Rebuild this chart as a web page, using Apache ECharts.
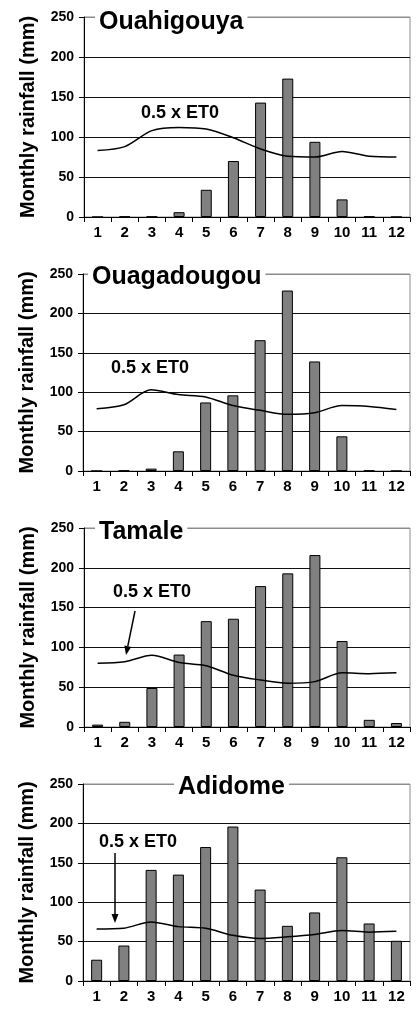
<!DOCTYPE html>
<html>
<head>
<meta charset="utf-8">
<title>Monthly rainfall and 0.5 x ET0</title>
<script src="https://cdn.jsdelivr.net/npm/echarts@6/dist/echarts.min.js"></script>
<style>
  html, body { margin: 0; padding: 0; background: #fff; }
  #main { width: 417px; height: 1014px; }
</style>
</head>
<body>
<div id="main"></div>
<script>
    // data (mm)
    var months = ['1', '2', '3', '4', '5', '6', '7', '8', '9', '10', '11', '12'];
    var stations = ['Ouahigouya', 'Ouagadougou', 'Tamale', 'Adidome'];
    var yTicks = [0, 50, 100, 150, 200, 250];

    var rainOuahigouya = [0, 0.5, 0.5, 6, 34, 70, 143, 173, 94, 22, 0.5, 0];
    var et0Ouahigouya = [83, 88, 108, 112, 110, 99, 85, 76, 75, 82, 76, 75];
    var rainOuagadougou = [0, 0.5, 3, 25, 87, 96, 166, 229, 139, 44, 0.5, 0];
    var et0Ouagadougou = [79, 84, 103, 97, 94, 83, 77, 72, 74, 83, 82, 78];
    var rainTamale = [3, 6.5, 49, 91, 133, 136, 177, 193, 216, 108, 9, 5];
    var et0Tamale = [80, 82, 90, 81, 77, 65, 59, 55, 57, 68, 67, 68];
    var rainAdidome = [27, 45, 141, 135, 170, 196, 116, 70, 87, 157, 73, 51];
    var et0Adidome = [66, 67, 75, 69, 67, 58, 54, 56, 59, 64, 62, 63];

    var rainData = [rainOuahigouya, rainOuagadougou, rainTamale, rainAdidome];
    var et0Data = [et0Ouahigouya, et0Ouagadougou, et0Tamale, et0Adidome];

    var FONT = '"Liberation Sans", Arial, sans-serif';

    // panel layout
    var grids = [
        {left: 84, top: 17, width: 326, height: 200},
        {left: 83, top: 274, width: 327, height: 197},
        {left: 84, top: 528, width: 326, height: 199},
        {left: 83, top: 784, width: 327, height: 197}
    ];
    var titlePos = [[95, 9], [88, 264], [95, 519], [174, 774]];

    var option = {
        animation: false,
        backgroundColor: '#fff',
        title: [],
        grid: [],
        xAxis: [],
        yAxis: [],
        series: [],
        graphic: []
    };

    for (var i = 0; i < 4; i++) {
        var g = grids[i];
        option.grid.push({
            left: g.left, top: g.top, width: g.width, height: g.height,
            show: true, borderColor: '#8c8c8c', borderWidth: 1,
            containLabel: false
        });
        option.title.push({
            text: stations[i],
            left: titlePos[i][0], top: titlePos[i][1],
            padding: [0, 4],
            backgroundColor: '#fff',
            textStyle: {fontFamily: FONT, fontSize: 25, fontWeight: 'bold', color: '#000', lineHeight: 26}
        });
        option.xAxis.push({
            type: 'category',
            gridIndex: i,
            data: months,
            boundaryGap: true,
            axisLine: {lineStyle: {color: '#000', width: 1}},
            axisTick: {show: true, length: 5, lineStyle: {color: '#000'}},
            axisLabel: {fontFamily: FONT, fontSize: 15, fontWeight: 'bold', color: '#000', margin: 8, interval: 0},
            splitLine: {show: false}
        });
        option.yAxis.push({
            type: 'value',
            gridIndex: i,
            min: 0, max: 250, interval: 50,
            name: 'Monthly rainfall (mm)',
            nameLocation: 'middle',
            nameGap: 46,
            nameTextStyle: {fontFamily: FONT, fontSize: 20, fontWeight: 'bold', color: '#000'},
            axisLine: {show: true, lineStyle: {color: '#000', width: 1}},
            axisTick: {show: true, length: 5, lineStyle: {color: '#000'}},
            axisLabel: {fontFamily: FONT, fontSize: 14, fontWeight: 'bold', color: '#000', margin: 10},
            splitLine: {show: true, lineStyle: {color: ['#000', '#111', '#111', '#111', '#111', '#8c8c8c'], width: 1}}
        });
        option.series.push({
            type: 'bar',
            name: 'Rainfall',
            xAxisIndex: i, yAxisIndex: i,
            data: rainData[i],
            barWidth: 11,
            itemStyle: {color: '#808080', borderColor: '#000', borderWidth: 1}
        });
        option.series.push({
            type: 'line',
            name: '0.5 x ET0',
            xAxisIndex: i, yAxisIndex: i,
            data: et0Data[i],
            smooth: 0.3,
            symbol: 'none',
            lineStyle: {color: '#000', width: 1.5},
            z: 5
        });
    }

    // "0.5 x ET0" labels and arrows
    var labels = [[180, 113], [150, 368], [152, 592], [138, 842]];
    var arrows = [null, null, [135, 611, 126, 655], [115, 853, 115, 923]];
    labels.forEach(function (p, k) {
        option.graphic.push({
            type: 'text', x: p[0], y: p[1], z: 100,
            style: {text: '0.5 x ET0', fill: '#000', font: 'bold 18px ' + FONT, textAlign: 'center', textVerticalAlign: 'middle'}
        });
        var a = arrows[k];
        if (!a) return;
        var dx = a[2] - a[0], dy = a[3] - a[1];
        var len = Math.sqrt(dx * dx + dy * dy);
        var ux = dx / len, uy = dy / len;
        var hl = 9, hw = 3.5;
        var bx = a[2] - ux * hl, by = a[3] - uy * hl;
        option.graphic.push({
            type: 'line', z: 100,
            shape: {x1: a[0], y1: a[1], x2: bx, y2: by},
            style: {stroke: '#000', lineWidth: 1.5}
        });
        option.graphic.push({
            type: 'polygon', z: 100,
            shape: {points: [[a[2], a[3]], [bx - uy * hw, by + ux * hw], [bx + uy * hw, by - ux * hw]]},
            style: {fill: '#000'}
        });
    });

    var myChart = echarts.init(document.getElementById('main'));
    myChart.setOption(option);
</script>
</body>
</html>
